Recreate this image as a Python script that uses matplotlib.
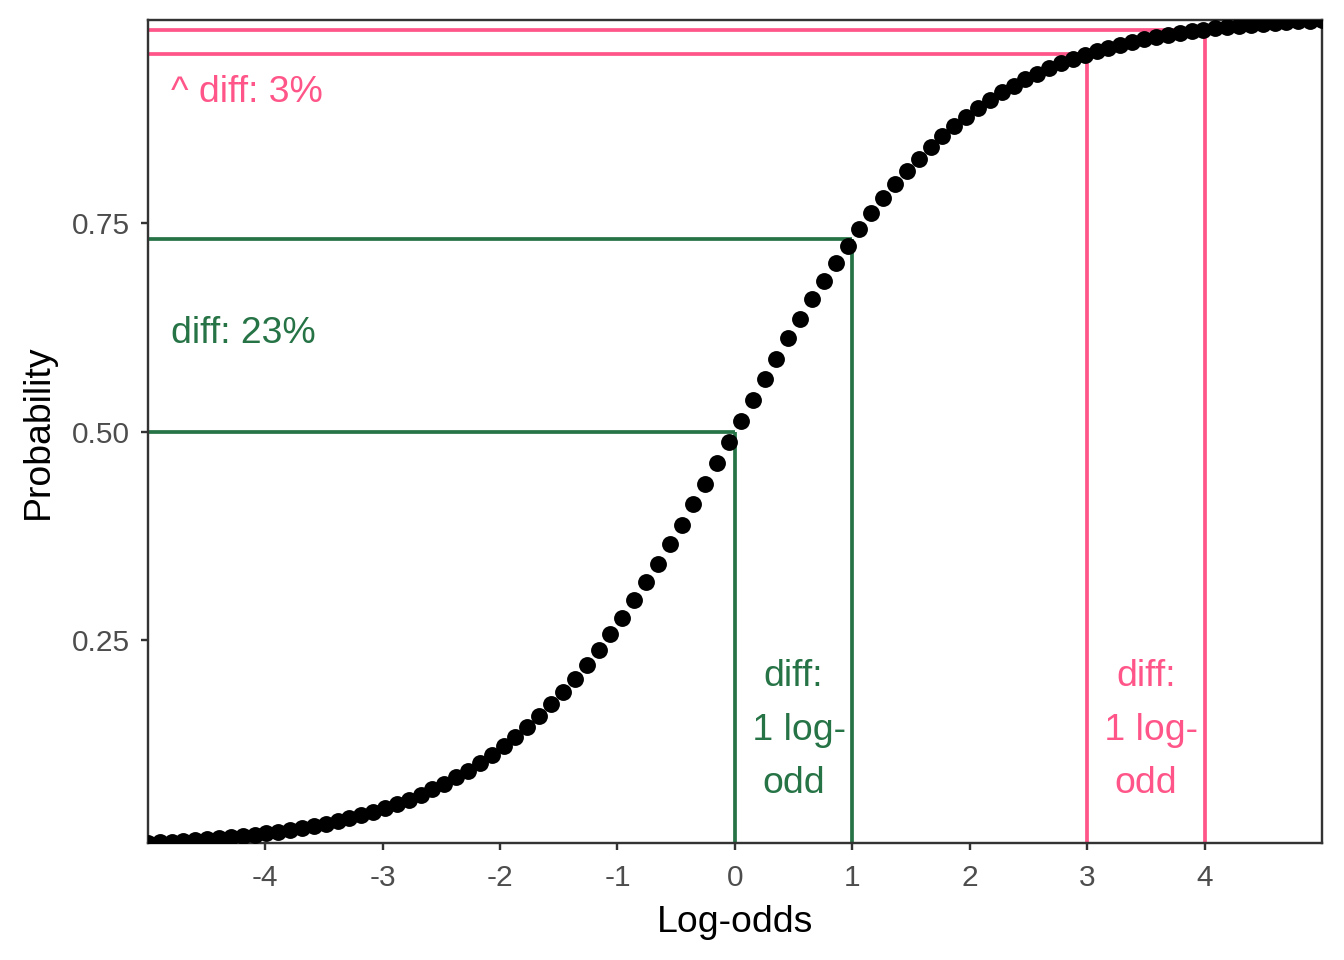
import numpy as np
import matplotlib
matplotlib.use("Agg")
import matplotlib.pyplot as plt

plt.rcParams["font.family"] = ["Liberation Sans", "DejaVu Sans"]
plt.rcParams["axes.unicode_minus"] = False

# probability at 100 evenly spaced log-odds values from -5 to 5
prob = [
    0.00669, 0.00740, 0.00818, 0.00904, 0.00999, 0.01104, 0.01220, 0.01348, 0.01489, 0.01645,
    0.01817, 0.02006, 0.02214, 0.02444, 0.02696, 0.02975, 0.03281, 0.03617, 0.03986, 0.04391,
    0.04835, 0.05321, 0.05854, 0.06436, 0.07071, 0.07765, 0.08520, 0.09341, 0.10232, 0.11198,
    0.12242, 0.13369, 0.14583, 0.15887, 0.17283, 0.18776, 0.20365, 0.22053, 0.23838, 0.25719,
    0.27695, 0.29763, 0.31917, 0.34150, 0.36457, 0.38829, 0.41253, 0.43721, 0.46220, 0.48738,
    0.51262, 0.53780, 0.56279, 0.58747, 0.61171, 0.63543, 0.65850, 0.68083, 0.70237, 0.72305,
    0.74281, 0.76162, 0.77947, 0.79635, 0.81224, 0.82717, 0.84113, 0.85417, 0.86631, 0.87758,
    0.88802, 0.89768, 0.90659, 0.91480, 0.92235, 0.92929, 0.93564, 0.94146, 0.94679, 0.95165,
    0.95609, 0.96014, 0.96383, 0.96719, 0.97025, 0.97304, 0.97556, 0.97786, 0.97994, 0.98183,
    0.98355, 0.98511, 0.98652, 0.98780, 0.98896, 0.99001, 0.99096, 0.99182, 0.99260, 0.99331,
]
logodds = np.linspace(-5, 5, len(prob))

green_x = [0, 1]
green_p = [0.5000, 0.7311]
pink_x = [3, 4]
pink_p = [0.9526, 0.9820]

green = "#267346"
pink = "#FF5588"

fig = plt.figure(figsize=(7, 5), dpi=192)
ax = fig.add_axes([0.110, 0.122, 0.8736, 0.857])

xmin, xmax = logodds[0], logodds[-1]
ymin, ymax = min(prob), max(prob)

for xs, ps, col in [(green_x, green_p, green), (pink_x, pink_p, pink)]:
    for x, p in zip(xs, ps):
        ax.plot([xmin, x], [p, p], color=col, lw=1.4, solid_capstyle="butt", zorder=2)
        ax.plot([x, x], [ymin, p], color=col, lw=1.4, solid_capstyle="butt", zorder=2)

ax.scatter(logodds, prob, s=40, color="black", linewidths=0, zorder=3)

ax.text(-4.8, 0.907, "^ diff: 3%", color=pink, fontsize=14, ha="left", va="center")
ax.text(-4.8, 0.618, "diff: 23%", color=green, fontsize=14, ha="left", va="center")
ax.text(0.5, 0.142, "diff:\n 1 log-\nodd", color=green, fontsize=14,
        ha="center", va="center", linespacing=1.7)
ax.text(3.5, 0.142, "diff:\n 1 log-\nodd", color=pink, fontsize=14,
        ha="center", va="center", linespacing=1.7)

ax.set_xlim(xmin, xmax)
ax.set_ylim(ymin, ymax)
ax.set_xticks([-4, -3, -2, -1, 0, 1, 2, 3, 4])
ax.set_yticks([0.25, 0.50, 0.75])
ax.set_yticklabels(["0.25", "0.50", "0.75"])
ax.tick_params(length=2.75, width=0.9, color="#333333", labelcolor="#4D4D4D",
               labelsize=11.2)
ax.tick_params(axis="x", pad=5)
ax.tick_params(axis="y", pad=4)
for s in ax.spines.values():
    s.set_color("#333333")
    s.set_linewidth(0.9)

ax.set_xlabel("Log-odds", fontsize=14, labelpad=5)
ax.set_ylabel("Probability", fontsize=14, labelpad=6)

fig.savefig("out.png", dpi=192)
